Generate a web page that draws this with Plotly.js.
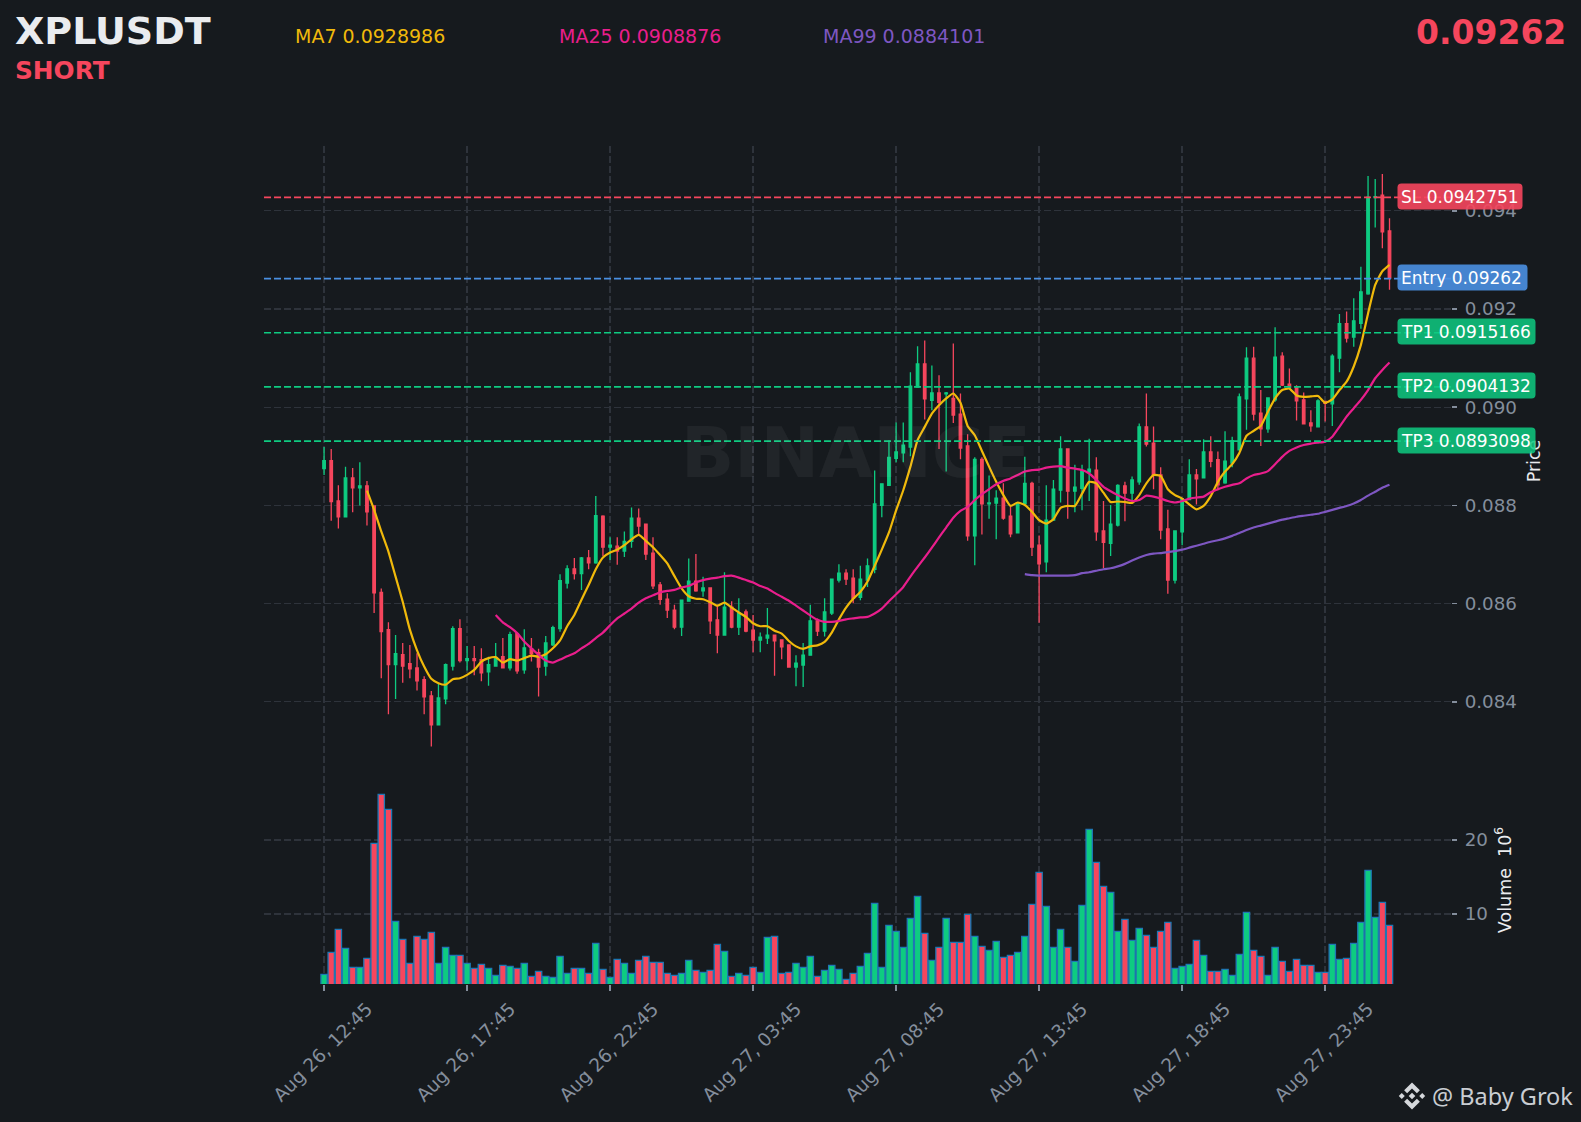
<!DOCTYPE html>
<html>
<head>
<meta charset="utf-8">
<script src="https://cdn.plot.ly/plotly-3.0.1.min.js"></script>
<style>
html,body{margin:0;padding:0;background:#161A1E;overflow:hidden}
#chart{width:1581px;height:1122px}
.annotation .bg{rx:4px;ry:4px}
#logo{position:absolute;left:1398px;top:1082px;width:28px;height:28px}
</style>
</head>
<body>
<div id="chart"></div>
<svg id="logo" viewBox="0 0 32 32" fill="#D5D8DC">
<polygon points="16,0.5 25,9.5 21.6,12.9 16,7.3 10.4,12.9 7,9.5"/>
<polygon points="16,31.5 25,22.5 21.6,19.1 16,24.7 10.4,19.1 7,22.5"/>
<polygon points="16,12.2 19.8,16 16,19.8 12.2,16"/>
<polygon points="4.3,12.6 7.7,16 4.3,19.4 0.9,16"/>
<polygon points="27.7,12.6 31.1,16 27.7,19.4 24.3,16"/>
</svg>
<script>
const tickLabels = ["Aug 26, 12:45","Aug 26, 17:45","Aug 26, 22:45","Aug 27, 03:45","Aug 27, 08:45","Aug 27, 13:45","Aug 27, 18:45","Aug 27, 23:45"];
const tickPositions = [0,20,40,60,80,100,120,140];

const openPrices = [0.08875,0.08891,0.08809,0.08777,0.08856,0.08836,0.08840,0.08799,0.08623,0.08547,
0.08476,0.08496,0.08478,0.08469,0.08445,0.08412,0.08353,0.08406,0.08473,0.08549,
0.08484,0.08488,0.08486,0.08461,0.08473,0.08492,0.08469,0.08539,0.08465,0.08508,
0.08500,0.08473,0.08516,0.08549,0.08642,0.08671,0.08661,0.08693,0.08683,0.08778,
0.08715,0.08717,0.08707,0.08727,0.08774,0.08762,0.08703,0.08638,0.08609,0.08587,
0.08552,0.08605,0.08646,0.08626,0.08632,0.08567,0.08536,0.08593,0.08552,0.08583,
0.08546,0.08526,0.08530,0.08536,0.08526,0.08516,0.08471,0.08475,0.08495,0.08565,
0.08544,0.08581,0.08648,0.08662,0.08652,0.08613,0.08648,0.08670,0.08800,0.08841,
0.08896,0.08907,0.08919,0.09041,0.09088,0.09014,0.09029,0.09027,0.09018,0.08986,
0.08921,0.08738,0.08894,0.08803,0.08805,0.08815,0.08778,0.08744,0.08803,0.08845,
0.08719,0.08685,0.08770,0.08831,0.08915,0.08829,0.08835,0.08868,0.08872,0.08748,
0.08723,0.08760,0.08840,0.08825,0.08848,0.08960,0.08927,0.08862,0.08752,0.08648,
0.08746,0.08812,0.08862,0.08856,0.08909,0.08893,0.08846,0.08886,0.08913,0.09017,
0.09100,0.08988,0.08956,0.09015,0.09104,0.09047,0.09041,0.09015,0.08968,0.08960,
0.09012,0.09007,0.09100,0.09170,0.09143,0.09171,0.09231,0.09427,0.09432,0.09359];

const highPrices = [0.08919,0.08915,0.08841,0.08879,0.08876,0.08888,0.08850,0.08799,0.08631,0.08562,
0.08536,0.08520,0.08516,0.08499,0.08452,0.08422,0.08437,0.08478,0.08554,0.08568,
0.08514,0.08514,0.08509,0.08492,0.08520,0.08530,0.08543,0.08541,0.08548,0.08530,
0.08508,0.08534,0.08555,0.08660,0.08678,0.08693,0.08695,0.08709,0.08819,0.08780,
0.08735,0.08735,0.08747,0.08796,0.08794,0.08762,0.08735,0.08644,0.08621,0.08598,
0.08607,0.08692,0.08701,0.08655,0.08632,0.08598,0.08664,0.08605,0.08611,0.08588,
0.08577,0.08541,0.08591,0.08536,0.08526,0.08516,0.08495,0.08520,0.08598,0.08570,
0.08611,0.08650,0.08680,0.08670,0.08670,0.08677,0.08692,0.08871,0.08844,0.08933,
0.08969,0.08969,0.09071,0.09124,0.09136,0.09085,0.09065,0.09031,0.09130,0.09028,
0.08945,0.08898,0.08898,0.08861,0.08831,0.08845,0.08797,0.08807,0.08899,0.08848,
0.08739,0.08841,0.08852,0.08941,0.08915,0.08883,0.08883,0.08936,0.08898,0.08809,
0.08801,0.08843,0.08848,0.08859,0.08967,0.09028,0.08961,0.08878,0.08791,0.08748,
0.08814,0.08894,0.08874,0.08935,0.08941,0.08910,0.08951,0.08940,0.09028,0.09122,
0.09123,0.09035,0.09020,0.09163,0.09112,0.09079,0.09045,0.09030,0.08994,0.09016,
0.09012,0.09108,0.09190,0.09195,0.09222,0.09286,0.09471,0.09465,0.09475,0.09385];

const lowPrices = [0.08862,0.08769,0.08753,0.08777,0.08786,0.08800,0.08759,0.08581,0.08448,0.08375,
0.08406,0.08439,0.08448,0.08423,0.08375,0.08309,0.08353,0.08395,0.08464,0.08480,
0.08464,0.08454,0.08442,0.08433,0.08473,0.08469,0.08464,0.08457,0.08457,0.08482,
0.08411,0.08453,0.08514,0.08543,0.08631,0.08649,0.08628,0.08670,0.08681,0.08697,
0.08689,0.08679,0.08695,0.08714,0.08740,0.08689,0.08630,0.08598,0.08571,0.08548,
0.08534,0.08605,0.08624,0.08614,0.08538,0.08499,0.08536,0.08550,0.08536,0.08542,
0.08501,0.08501,0.08518,0.08453,0.08487,0.08471,0.08432,0.08430,0.08495,0.08534,
0.08533,0.08577,0.08643,0.08638,0.08601,0.08607,0.08634,0.08662,0.08776,0.08841,
0.08888,0.08888,0.08900,0.09041,0.08975,0.08994,0.08915,0.08869,0.08968,0.08894,
0.08728,0.08678,0.08741,0.08773,0.08731,0.08771,0.08735,0.08744,0.08803,0.08697,
0.08561,0.08664,0.08770,0.08806,0.08773,0.08786,0.08790,0.08809,0.08728,0.08672,
0.08697,0.08757,0.08768,0.08811,0.08842,0.08920,0.08833,0.08731,0.08620,0.08641,
0.08719,0.08812,0.08802,0.08856,0.08878,0.08831,0.08844,0.08878,0.08913,0.08954,
0.08973,0.08921,0.08948,0.09011,0.09043,0.09039,0.08973,0.08966,0.08950,0.08960,
0.08971,0.08962,0.09071,0.09132,0.09123,0.09160,0.09229,0.09366,0.09324,0.09239];

const closePrices = [0.08891,0.08808,0.08777,0.08856,0.08836,0.08840,0.08787,0.08622,0.08543,0.08476,
0.08498,0.08473,0.08467,0.08443,0.08410,0.08353,0.08408,0.08476,0.08549,0.08484,
0.08488,0.08484,0.08459,0.08476,0.08490,0.08469,0.08537,0.08463,0.08510,0.08498,
0.08471,0.08520,0.08551,0.08647,0.08671,0.08661,0.08693,0.08683,0.08779,0.08715,
0.08719,0.08707,0.08727,0.08774,0.08758,0.08701,0.08636,0.08609,0.08587,0.08552,
0.08607,0.08646,0.08626,0.08632,0.08565,0.08536,0.08593,0.08552,0.08581,0.08544,
0.08526,0.08532,0.08536,0.08524,0.08512,0.08471,0.08479,0.08495,0.08565,0.08544,
0.08583,0.08650,0.08662,0.08650,0.08611,0.08650,0.08677,0.08803,0.08844,0.08898,
0.08909,0.08923,0.09043,0.09088,0.09017,0.09029,0.09010,0.09029,0.08984,0.08917,
0.08738,0.08894,0.08803,0.08805,0.08815,0.08774,0.08742,0.08805,0.08845,0.08715,
0.08681,0.08770,0.08833,0.08915,0.08829,0.08837,0.08870,0.08874,0.08746,0.08725,
0.08762,0.08841,0.08825,0.08852,0.08960,0.08925,0.08862,0.08750,0.08648,0.08748,
0.08814,0.08862,0.08854,0.08909,0.08890,0.08842,0.08890,0.08932,0.09021,0.09100,
0.08986,0.08956,0.09019,0.09102,0.09045,0.09041,0.09013,0.08966,0.08962,0.09013,
0.09008,0.09104,0.09170,0.09141,0.09176,0.09235,0.09428,0.09429,0.09357,0.09263];

const volumeMillions = [1.85,4.82,7.93,5.36,2.79,2.79,4.01,19.55,26.17,24.14,
9.01,6.58,3.33,6.98,6.58,7.52,3.33,5.50,4.41,4.41,
3.33,2.66,3.20,2.66,1.71,3.06,2.93,2.66,3.33,1.58,
2.25,1.58,1.44,4.28,1.98,2.66,2.66,1.98,6.04,2.52,
1.44,3.87,3.33,1.98,3.74,4.28,3.47,3.47,1.98,1.71,
1.98,3.74,2.39,2.12,2.39,5.90,4.95,1.58,1.98,1.71,
2.79,2.12,6.85,6.98,1.98,2.12,3.33,2.79,4.28,1.58,
2.39,3.06,2.52,1.17,1.98,2.93,4.68,11.44,2.79,8.47,
7.66,5.50,9.41,12.39,7.39,3.74,5.50,9.41,6.17,6.17,
9.95,6.98,5.63,5.09,6.31,4.14,4.41,4.82,6.98,11.31,
15.63,11.04,5.50,7.93,5.50,3.60,11.17,21.44,16.98,13.74,
12.93,7.66,9.28,6.44,8.06,7.12,5.50,7.66,8.87,2.66,
2.93,3.20,6.44,4.41,2.25,2.25,2.52,1.71,4.55,10.23,
5.09,4.28,1.71,5.50,3.60,2.25,3.87,3.06,3.06,2.12,
2.12,5.90,3.87,4.01,6.04,8.87,15.90,9.55,11.58,8.47];

const ma7Start = 6;
const ma7 = [0.08830,0.08791,0.08747,0.08706,0.08655,0.08604,0.08547,0.08505,0.08472,0.08447,
0.08438,0.08435,0.08446,0.08448,0.08455,0.08465,0.08482,0.08489,0.08491,0.08480,
0.08487,0.08484,0.08489,0.08494,0.08492,0.08497,0.08509,0.08525,0.08554,0.08577,
0.08608,0.08638,0.08670,0.08694,0.08704,0.08710,0.08719,0.08731,0.08740,0.08728,
0.08715,0.08699,0.08682,0.08656,0.08631,0.08615,0.08610,0.08609,0.08603,0.08596,
0.08602,0.08592,0.08582,0.08573,0.08560,0.08554,0.08554,0.08545,0.08539,0.08524,
0.08513,0.08508,0.08513,0.08515,0.08522,0.08541,0.08568,0.08592,0.08610,0.08624,
0.08645,0.08677,0.08710,0.08745,0.08790,0.08831,0.08879,0.08933,0.08960,0.08987,
0.09004,0.09018,0.09028,0.09009,0.08962,0.08943,0.08911,0.08879,0.08848,0.08821,
0.08799,0.08806,0.08801,0.08787,0.08770,0.08763,0.08772,0.08795,0.08799,0.08799,
0.08824,0.08848,0.08845,0.08826,0.08807,0.08808,0.08807,0.08805,0.08821,0.08845,
0.08862,0.08860,0.08833,0.08821,0.08814,0.08802,0.08792,0.08799,0.08819,0.08848,
0.08869,0.08884,0.08907,0.08942,0.08952,0.08962,0.08991,0.09018,0.09035,0.09038,
0.09024,0.09021,0.09022,0.09023,0.09009,0.09016,0.09035,0.09052,0.09083,0.09127,
0.09191,0.09249,0.09277,0.09290];

const ma25Start = 24;
const ma25 = [0.08577,0.08562,0.08552,0.08540,0.08523,0.08509,0.08496,0.08484,0.08480,0.08486,
0.08493,0.08499,0.08509,0.08518,0.08530,0.08541,0.08556,0.08570,0.08580,0.08590,
0.08602,0.08611,0.08617,0.08623,0.08626,0.08628,0.08633,0.08636,0.08643,0.08648,
0.08651,0.08653,0.08656,0.08657,0.08653,0.08648,0.08643,0.08636,0.08631,0.08622,
0.08614,0.08606,0.08596,0.08586,0.08576,0.08567,0.08563,0.08563,0.08565,0.08568,
0.08570,0.08572,0.08573,0.08580,0.08590,0.08605,0.08619,0.08634,0.08655,0.08675,
0.08694,0.08714,0.08735,0.08755,0.08775,0.08789,0.08797,0.08811,0.08823,0.08833,
0.08843,0.08850,0.08855,0.08862,0.08869,0.08872,0.08873,0.08877,0.08879,0.08880,
0.08877,0.08875,0.08872,0.08865,0.08852,0.08838,0.08829,0.08821,0.08814,0.08809,
0.08811,0.08820,0.08818,0.08814,0.08809,0.08806,0.08809,0.08814,0.08816,0.08818,
0.08827,0.08833,0.08838,0.08842,0.08845,0.08855,0.08862,0.08865,0.08870,0.08884,
0.08899,0.08911,0.08918,0.08923,0.08926,0.08928,0.08930,0.08940,0.08960,0.08981,
0.08998,0.09015,0.09035,0.09059,0.09076,0.09091];

const ma99Start = 98;
const ma99 = [0.08660,0.08658,0.08657,0.08657,0.08657,0.08657,0.08657,0.08658,0.08662,0.08664,
0.08667,0.08670,0.08672,0.08676,0.08681,0.08688,0.08694,0.08699,0.08702,0.08703,
0.08705,0.08707,0.08710,0.08714,0.08718,0.08722,0.08726,0.08729,0.08733,0.08738,
0.08744,0.08750,0.08755,0.08759,0.08763,0.08767,0.08771,0.08774,0.08777,0.08779,
0.08781,0.08783,0.08787,0.08791,0.08795,0.08799,0.08804,0.08811,0.08820,0.08828,
0.08836,0.08842];

const priceTicks = [0.084,0.086,0.088,0.090,0.092,0.094];
const priceTickText = ["0.084","0.086","0.088","0.090","0.092","0.094"];
const volumeTicks = [10,20];

const levelNames = ["SL","Entry","TP1","TP2","TP3"];
const levelPrices = [0.0942751,0.09262,0.0915166,0.0904132,0.0893098];
const levelLabels = ["SL 0.0942751","Entry 0.09262","TP1 0.0915166","TP2 0.0904132","TP3 0.0893098"];
const levelLine = ["#F6465D","#4A90E2","#0ECB81","#0ECB81","#0ECB81"];
const levelFill = ["rgba(246,70,93,0.9)","rgba(74,144,226,0.9)","rgba(14,203,129,0.85)","rgba(14,203,129,0.85)","rgba(14,203,129,0.85)"];
const levelWidths = [118,123,131,131,131];

const UP="#0ECB81", DOWN="#F6465D", W=1581, H=1122, FONT="DejaVu Sans";
const idx = closePrices.map((_,i)=>i);
const px = v=>v/W, py = v=>1-v/H;

const traces = [
 {type:"candlestick",x:idx,open:openPrices,high:highPrices,low:lowPrices,close:closePrices,xaxis:"x",yaxis:"y",
  whiskerwidth:0,increasing:{line:{color:UP,width:1.3},fillcolor:UP},decreasing:{line:{color:DOWN,width:1.3},fillcolor:DOWN},name:"Price",showlegend:false},
 {type:"scatter",mode:"lines",x:ma7.map((_,i)=>i+ma7Start),y:ma7,xaxis:"x",yaxis:"y",line:{color:"#F0B90B",width:2.2,shape:"spline",smoothing:0.5},name:"MA7"},
 {type:"scatter",mode:"lines",x:ma25.map((_,i)=>i+ma25Start),y:ma25,xaxis:"x",yaxis:"y",line:{color:"#E91E8C",width:2.2,shape:"spline",smoothing:0.5},name:"MA25"},
 {type:"scatter",mode:"lines",x:ma99.map((_,i)=>i+ma99Start),y:ma99,xaxis:"x",yaxis:"y",line:{color:"#7E57C2",width:2.2,shape:"spline",smoothing:0.5},name:"MA99"},
 {type:"bar",x:idx,y:volumeMillions,xaxis:"x",yaxis:"y2",width:0.88,
  marker:{color:closePrices.map((c,i)=>c>=openPrices[i]?UP:DOWN),line:{color:"#1F77B4",width:1.3}},name:"Volume"}
];

function txt(text,x,y,size,color,bold,xanchor){
 return {text:bold?"<b>"+text+"</b>":text,xref:"paper",yref:"paper",x:px(x),y:py(y),xanchor:xanchor||"left",yanchor:"middle",showarrow:false,
  font:{family:FONT,size:size,color:color}};
}
const annotations = [
 {text:"<b>BINANCE</b>",xref:"paper",yref:"paper",x:px(856),y:py(453),xanchor:"center",yanchor:"middle",showarrow:false,font:{family:FONT,size:70,color:"rgba(255,255,255,0.05)"}},
 txt("XPLUSDT",13,30.5,38,"#EAECEF",true),
 txt("SHORT",13,70.5,24.8,"#F6465D",true),
 txt("MA7 0.0928986",293,36,19,"#F0B90B",false),
 txt("MA25 0.0908876",557,36,19,"#E91E8C",false),
 txt("MA99 0.0884101",821,36,19,"#7E57C2",false),
 txt("0.09262",1568,32,33,"#F6465D",true,"right"),
 {text:"@ Baby Grok",xref:"paper",yref:"paper",x:px(1430),y:py(1096),xanchor:"left",yanchor:"middle",showarrow:false,font:{family:"Noto Sans",size:23.5,color:"#C9CDD2"}}
];
levelPrices.forEach((p,i)=>annotations.push({text:levelLabels[i],xref:"paper",yref:"y",x:px(1398),y:p,xanchor:"left",yanchor:"middle",xshift:-1.5,yshift:1,
  showarrow:false,align:"left",width:levelWidths[i],height:19,borderpad:3,bgcolor:levelFill[i],font:{family:FONT,size:17,color:"#FFFFFF"}}));

const shapes = levelPrices.map((p,i)=>({type:"line",xref:"x",yref:"y",x0:-8.4,x1:157.6,y0:p,y1:p,layer:"above",
  line:{color:levelLine[i],width:1.7,dash:"7px,3px"}}));

const layout = {
 width:W,height:H,margin:{l:0,r:0,t:0,b:0},paper_bgcolor:"#161A1E",plot_bgcolor:"#161A1E",showlegend:false,boxgap:0.5,
 font:{family:FONT,color:"#848E9C"},hovermode:false,bargap:0.1,
 xaxis:{domain:[px(264),px(1451)],range:[-8.4,157.6],anchor:"y2",type:"linear",rangeslider:{visible:false},tickvals:tickPositions,ticktext:tickLabels,
  tickangle:-45,ticks:"outside",ticklen:6,tickwidth:2,tickcolor:"#848E9C",tickfont:{family:FONT,size:18.5,color:"#848E9C"},ticklabelshift:43,
  showgrid:true,gridcolor:"#2E333B",griddash:"7px,3px",gridwidth:2,zeroline:false,showline:false},
 yaxis:{domain:[py(776),py(146)],range:[0.08249,0.09532],side:"right",anchor:"x",tickvals:priceTicks,ticktext:priceTickText,
  ticks:"outside",ticklen:5,tickwidth:1.5,tickcolor:"#848E9C",tickfont:{family:FONT,size:18.3,color:"#848E9C"},ticklabelstandoff:4,
  showgrid:true,gridcolor:"#2E333B",griddash:"7px,3px",gridwidth:1.3,zeroline:false,showline:false,
  title:{text:"Price",standoff:11,font:{family:FONT,size:17.5,color:"#EAECEF"}}},
 yaxis2:{domain:[py(984),py(776)],range:[0.54,28.65],side:"right",anchor:"x",tickvals:volumeTicks,
  ticks:"outside",ticklen:5,tickwidth:1.5,tickcolor:"#848E9C",tickfont:{family:FONT,size:18.3,color:"#848E9C"},ticklabelstandoff:4,
  showgrid:true,gridcolor:"#2E333B",griddash:"7px,3px",gridwidth:1.3,zeroline:false,showline:false,
  title:{text:"Volume  10<sup>6</sup>",standoff:11,font:{family:FONT,size:17.5,color:"#EAECEF"}}},
 annotations:annotations,shapes:shapes
};
Plotly.newPlot("chart",traces,layout,{displayModeBar:false,staticPlot:true});
</script>
</body>
</html>
